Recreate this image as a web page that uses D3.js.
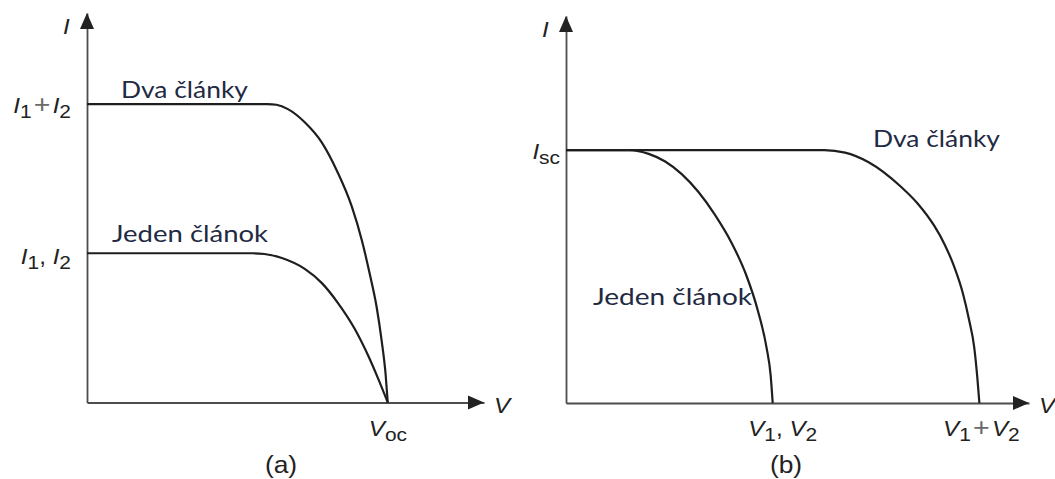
<!DOCTYPE html>
<html>
<head>
<meta charset="utf-8">
<script src="https://cdn.jsdelivr.net/npm/d3@7"></script>
<style>
  html, body { margin: 0; padding: 0; background: #fff; }
  svg { display: block; }
</style>
</head>
<body>
<svg id="chart" width="1055" height="479"></svg>
<script>
// ---- Data (normalised units: panel a -> V in Voc, I in I1; panel b -> V in V1, I in Isc) ----

// Panel (a): cells in parallel
const aTwoV = [0, 0.60, 0.63, 0.668, 0.724, 0.781, 0.834, 0.880, 0.914, 0.940, 0.963, 0.980, 0.993, 1];
const aTwoI = [2, 2, 1.995, 1.966, 1.878, 1.742, 1.54, 1.316, 1.086, 0.862, 0.64, 0.41, 0.186, 0];
const aOneV = [0, 0.55, 0.59, 0.648, 0.724, 0.781, 0.834, 0.890, 0.934, 0.967, 1];
const aOneI = [1, 1, 0.995, 0.968, 0.895, 0.80, 0.668, 0.494, 0.318, 0.165, 0];

// Panel (b): cells in series
const bOneV = [0, 0.28, 0.31, 0.40, 0.48, 0.56, 0.64, 0.72, 0.80, 0.87, 0.93, 0.97, 0.99, 1];
const bOneI = [1, 1, 1, 0.985, 0.955, 0.905, 0.835, 0.745, 0.635, 0.51, 0.36, 0.22, 0.11, 0];
const bTwoV = [0, 1.2, 1.25, 1.35, 1.462, 1.622, 1.70, 1.782, 1.83, 1.878, 1.92, 1.95, 1.975, 1.99, 2];
const bTwoI = [1, 1, 1, 0.99, 0.953, 0.854, 0.79, 0.70, 0.63, 0.539, 0.434, 0.329, 0.22, 0.10, 0];

// Tick values and their symbolic labels
const aYTicks = [2, 1];
const aYTickLabels = [["I", "1", "+", "I", "2"], ["I", "1", ", ", "I", "2"]];
const aXTicks = [1];
const aXTickLabels = [["V", "oc"]];
const bYTicks = [1];
const bYTickLabels = [["I", "sc"]];
const bXTicks = [1, 2];
const bXTickLabels = [["V", "1", ", ", "V", "2"], ["V", "1", "+", "V", "2"]];

const curveNames = ["Dva články", "Jeden článok"];
const panelTitles = ["(a)", "(b)"];

// ---- Drawing ----
const svg = d3.select("#chart");
const axisColor = "#4d4d4d";
const curveColor = "#1e1e1e";
const textColor = "#1f2a44";
const mathColor = "#222";
const mathFont = "'Liberation Sans', Arial, sans-serif";
const textFont = "Lato, 'Open Sans', sans-serif";
const stretch = 1.1;

function zip(vs, is) { return vs.map((v, i) => [v, is[i]]); }

// plain (non-subscripted) label, slightly widened
function plainLabel(g, str, px, py, anchor, size, italic) {
  g.append("g").attr("transform", `translate(${px},${py}) scale(${stretch},1)`)
    .append("text").attr("text-anchor", anchor)
    .attr("font-family", mathFont).attr("font-size", size)
    .attr("font-style", italic ? "italic" : "normal")
    .attr("fill", mathColor).text(str);
}

function makePanel(cfg) {
  const g = svg.append("g");
  const x = d3.scaleLinear().domain(cfg.xDomain).range(cfg.xRange);
  const y = d3.scaleLinear().domain(cfg.yDomain).range(cfg.yRange);

  // axes (no tick marks; arrows at the ends)
  const xAxis = d3.axisBottom(x).tickValues([]).tickSizeOuter(0);
  const yAxis = d3.axisLeft(y).tickValues([]).tickSizeOuter(0);
  const gx = g.append("g").attr("transform", `translate(0,${y(0)})`).call(xAxis);
  const gy = g.append("g").attr("transform", `translate(${x(0)},0)`).call(yAxis);
  [gx, gy].forEach(a => a.select(".domain").attr("stroke", axisColor).attr("stroke-width", 1.8));

  const xEnd = x(cfg.xDomain[1]), yTop = y(cfg.yDomain[1]);
  g.append("path")
    .attr("d", `M${xEnd},${y(0)} L${xEnd - 16},${y(0) - 7} L${xEnd - 16},${y(0) + 7} Z`)
    .attr("fill", "#222");
  g.append("path")
    .attr("d", `M${x(0)},${yTop} L${x(0) - 7},${yTop + 16} L${x(0) + 7},${yTop + 16} Z`)
    .attr("fill", "#222");

  // axis names
  plainLabel(g, "V", xEnd + 10, y(0) + 10, "start", 22, true);
  plainLabel(g, "I", x(0) - 24, yTop + 21, "start", 22, true);

  // curves
  const line = d3.line().x(d => x(d[0])).y(d => y(d[1])).curve(d3.curveMonotoneX);
  cfg.curves.forEach(c => {
    g.append("path").datum(c).attr("d", line)
      .attr("fill", "none").attr("stroke", curveColor).attr("stroke-width", 2.2)
      .attr("stroke-linejoin", "round");
  });

  return { g, x, y };
}

// symbolic label: italic symbols, subscripts, lighter operators
function mathLabel(g, parts, px, py, anchor) {
  const size = 22, subSize = 19, drop = 5;
  const t = g.append("g").attr("transform", `translate(${px},${py}) scale(${stretch},1)`)
    .append("text").attr("text-anchor", anchor)
    .attr("font-family", mathFont).attr("font-size", size).attr("fill", mathColor);
  let lowered = false;
  parts.forEach((p, i) => {
    const isSym = /^[IV]$/.test(p);
    const isSub = !isSym && i > 0 && /^[IV]$/.test(parts[i - 1]);
    const ts = t.append("tspan").text(p);
    if (isSym) {
      ts.attr("font-style", "italic");
      if (lowered) { ts.attr("dy", -drop); lowered = false; }
    } else if (isSub) {
      ts.attr("font-size", subSize).attr("dy", drop);
      lowered = true;
    } else {
      if (lowered) { ts.attr("dy", -drop); lowered = false; }
      if (p === "+") {
        ts.attr("font-size", 26).attr("fill", "#6a6a6a").attr("dx", 2)
          .attr("font-weight", 300);
      }
    }
    if (i > 0 && parts[i - 1] === "+") ts.attr("dx", 2);
  });
}

function curveLabel(g, text, px, py, len) {
  g.append("text").attr("x", px).attr("y", py)
    .attr("font-family", textFont).attr("font-size", 23)
    .attr("fill", textColor)
    .attr("textLength", len).attr("lengthAdjust", "spacingAndGlyphs")
    .text(text);
}

// Panel (a)
const A = makePanel({
  xDomain: [0, 1.32], xRange: [87, 484],
  yDomain: [0, 2.61], yRange: [402.5, 13],
  curves: [zip(aTwoV, aTwoI), zip(aOneV, aOneI)]
});
mathLabel(A.g, aYTickLabels[0], 71, A.y(aYTicks[0]) + 9, "end");
mathLabel(A.g, aYTickLabels[1], 71, A.y(aYTicks[1]) + 11, "end");
mathLabel(A.g, aXTickLabels[0], A.x(aXTicks[0]) - 19, 436, "start");
curveLabel(A.g, curveNames[0], 121, 98, 127);
curveLabel(A.g, curveNames[1], 112, 242, 156);
plainLabel(A.g, panelTitles[0], 281, 473, "middle", 24, false);

// Panel (b)
const B = makePanel({
  xDomain: [0, 2.24], xRange: [566, 1029],
  yDomain: [0, 1.53], yRange: [403, 16],
  curves: [zip(bTwoV, bTwoI), zip(bOneV, bOneI)]
});
mathLabel(B.g, bYTickLabels[0], 560, B.y(bYTicks[0]) + 9, "end");
mathLabel(B.g, bXTickLabels[0], B.x(bXTicks[0]) + 10, 436, "middle");
mathLabel(B.g, bXTickLabels[1], B.x(bXTicks[1]) + 2, 436, "middle");
curveLabel(B.g, curveNames[0], 873, 147, 127);
curveLabel(B.g, curveNames[1], 593, 305, 159);
plainLabel(B.g, panelTitles[1], 786, 473, "middle", 24, false);
</script>
</body>
</html>
